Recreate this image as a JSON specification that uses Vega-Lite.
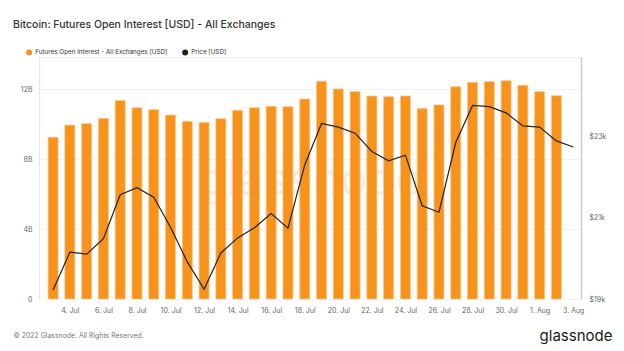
{
  "$schema": "https://vega.github.io/schema/vega-lite/v6.json",
  "width": 542,
  "height": 242,
  "autosize": "none",
  "padding": {"left": 39, "top": 57, "right": 43, "bottom": 52},
  "background": "white",
  "config": {
    "font": "Inter",
    "view": {"stroke": "#eeeeee", "strokeWidth": 1},
    "axis": {"labelFont": "Inter", "titleFont": "Inter"}
  },
  "title": {
    "text": "Bitcoin: Futures Open Interest [USD] - All Exchanges",
    "anchor": "start",
    "frame": "group",
    "dx": -26,
    "offset": 19,
    "fontSize": 10.5,
    "fontWeight": 500,
    "color": "#333333",
    "font": "Inter"
  },
  "data": {
    "values": [
      {"date": "2022-07-03", "oi": 9.24, "price": 19220},
      {"date": "2022-07-04", "oi": 9.94, "price": 20150},
      {"date": "2022-07-05", "oi": 10.02, "price": 20100},
      {"date": "2022-07-06", "oi": 10.32, "price": 20480},
      {"date": "2022-07-07", "oi": 11.35, "price": 21560},
      {"date": "2022-07-08", "oi": 10.93, "price": 21730},
      {"date": "2022-07-09", "oi": 10.82, "price": 21500},
      {"date": "2022-07-10", "oi": 10.51, "price": 20760},
      {"date": "2022-07-11", "oi": 10.15, "price": 19910},
      {"date": "2022-07-12", "oi": 10.08, "price": 19240},
      {"date": "2022-07-13", "oi": 10.30, "price": 20130},
      {"date": "2022-07-14", "oi": 10.78, "price": 20500},
      {"date": "2022-07-15", "oi": 10.93, "price": 20750},
      {"date": "2022-07-16", "oi": 11.01, "price": 21100},
      {"date": "2022-07-17", "oi": 10.99, "price": 20740},
      {"date": "2022-07-18", "oi": 11.43, "price": 22290},
      {"date": "2022-07-19", "oi": 12.45, "price": 23310},
      {"date": "2022-07-20", "oi": 12.00, "price": 23220},
      {"date": "2022-07-21", "oi": 11.85, "price": 23070},
      {"date": "2022-07-22", "oi": 11.60, "price": 22620},
      {"date": "2022-07-23", "oi": 11.56, "price": 22390},
      {"date": "2022-07-24", "oi": 11.60, "price": 22530},
      {"date": "2022-07-25", "oi": 10.88, "price": 21290},
      {"date": "2022-07-26", "oi": 11.09, "price": 21130},
      {"date": "2022-07-27", "oi": 12.13, "price": 22840},
      {"date": "2022-07-28", "oi": 12.38, "price": 23750},
      {"date": "2022-07-29", "oi": 12.42, "price": 23720},
      {"date": "2022-07-30", "oi": 12.47, "price": 23570},
      {"date": "2022-07-31", "oi": 12.21, "price": 23250},
      {"date": "2022-08-01", "oi": 11.85, "price": 23220},
      {"date": "2022-08-02", "oi": 11.62, "price": 22880},
      {"date": "2022-08-03", "price": 22730}
    ]
  },
  "encoding": {
    "x": {
      "field": "date",
      "type": "temporal",
      "scale": {
        "type": "utc",
        "domain": [
          {"year": 2022, "month": 7, "date": 2, "hours": 11, "utc": true},
          {"year": 2022, "month": 8, "date": 3, "hours": 4, "utc": true}
        ]
      },
      "axis": {
        "values": [
          {"year": 2022, "month": 7, "date": 4, "utc": true},
          {"year": 2022, "month": 7, "date": 6, "utc": true},
          {"year": 2022, "month": 7, "date": 8, "utc": true},
          {"year": 2022, "month": 7, "date": 10, "utc": true},
          {"year": 2022, "month": 7, "date": 12, "utc": true},
          {"year": 2022, "month": 7, "date": 14, "utc": true},
          {"year": 2022, "month": 7, "date": 16, "utc": true},
          {"year": 2022, "month": 7, "date": 18, "utc": true},
          {"year": 2022, "month": 7, "date": 20, "utc": true},
          {"year": 2022, "month": 7, "date": 22, "utc": true},
          {"year": 2022, "month": 7, "date": 24, "utc": true},
          {"year": 2022, "month": 7, "date": 26, "utc": true},
          {"year": 2022, "month": 7, "date": 28, "utc": true},
          {"year": 2022, "month": 7, "date": 30, "utc": true},
          {"year": 2022, "month": 8, "date": 1, "utc": true},
          {"year": 2022, "month": 8, "date": 3, "utc": true}
        ],
        "labelExpr": "utcFormat(datum.value, '%-d. %b')",
        "grid": false,
        "ticks": false,
        "domain": false,
        "labelPadding": 7,
        "labelFontSize": 7,
        "labelColor": "#666666",
        "labelFlush": false,
        "title": "© 2022 Glassnode. All Rights Reserved.",
        "titleAnchor": "start",
        "titleAlign": "left",
        "titleBaseline": "middle",
        "titleX": -26,
        "titleY": 36,
        "titleFontSize": 6.9,
        "titleFontWeight": "normal",
        "titleColor": "#777777"
      }
    }
  },
  "layer": [
    {
      "transform": [{"filter": "isValid(datum.oi)"}],
      "mark": {"type": "bar", "size": 10, "stroke": "#fbc48a", "strokeWidth": 0.8},
      "encoding": {
        "y": {
          "field": "oi",
          "type": "quantitative",
          "scale": {"domain": [0, 13.83], "nice": false, "zero": true},
          "axis": {
            "values": [0, 4, 8, 12],
            "labelExpr": "datum.value == 0 ? '0' : datum.value + 'B'",
            "grid": true,
            "gridColor": "#f3f3f3",
            "ticks": false,
            "domain": true,
            "domainColor": "#fde3c8",
            "labelPadding": 7,
            "labelFontSize": 7,
            "labelColor": "#666666",
            "title": "glassnode",
            "titleAngle": 0,
            "titleAlign": "center",
            "titleBaseline": "middle",
            "titleX": 271,
            "titleY": 123,
            "titleFontSize": 46,
            "titleFontWeight": "normal",
            "titleColor": "#eeeeee",
            "titleFont": "Inter"
          }
        },
        "color": {
          "datum": "Futures Open Interest - All Exchanges [USD]",
          "type": "nominal",
          "scale": {
            "domain": ["Futures Open Interest - All Exchanges [USD]", "Price [USD]"],
            "range": ["#f7931a", "#222222"]
          },
          "legend": {
            "orient": "none",
            "direction": "horizontal",
            "legendX": -13,
            "legendY": -8,
            "title": null,
            "symbolType": "circle",
            "symbolSize": 20,
            "labelFontSize": 6.3,
            "labelColor": "#333333",
            "labelFont": "Inter",
            "columnPadding": 11,
            "labelOffset": 3,
            "labelLimit": 300,
            "encode": {
              "symbols": {
                "update": {
                  "fill": {"scale": "color", "field": "value"},
                  "stroke": {"value": "transparent"}
                }
              }
            }
          }
        }
      }
    },
    {
      "mark": {"type": "line", "strokeWidth": 1.2},
      "encoding": {
        "y": {
          "field": "price",
          "type": "quantitative",
          "scale": {"domain": [19000, 24940], "nice": false, "zero": false},
          "axis": {
            "orient": "right",
            "values": [19000, 21000, 23000],
            "labelExpr": "'$' + (datum.value / 1000) + 'k'",
            "grid": false,
            "ticks": false,
            "domain": true,
            "domainColor": "#cccccc",
            "domainWidth": 1.5,
            "labelPadding": 8,
            "labelFontSize": 7,
            "labelColor": "#666666",
            "title": "glassnode",
            "titleAngle": 0,
            "titleAlign": "right",
            "titleBaseline": "middle",
            "titleX": 31,
            "titleY": 278,
            "titleFontSize": 15,
            "titleFontWeight": "normal",
            "titleColor": "#1a1a1a",
            "titleFont": "Inter"
          }
        },
        "color": {"datum": "Price [USD]", "type": "nominal"}
      }
    }
  ],
  "resolve": {"scale": {"y": "independent"}}
}
